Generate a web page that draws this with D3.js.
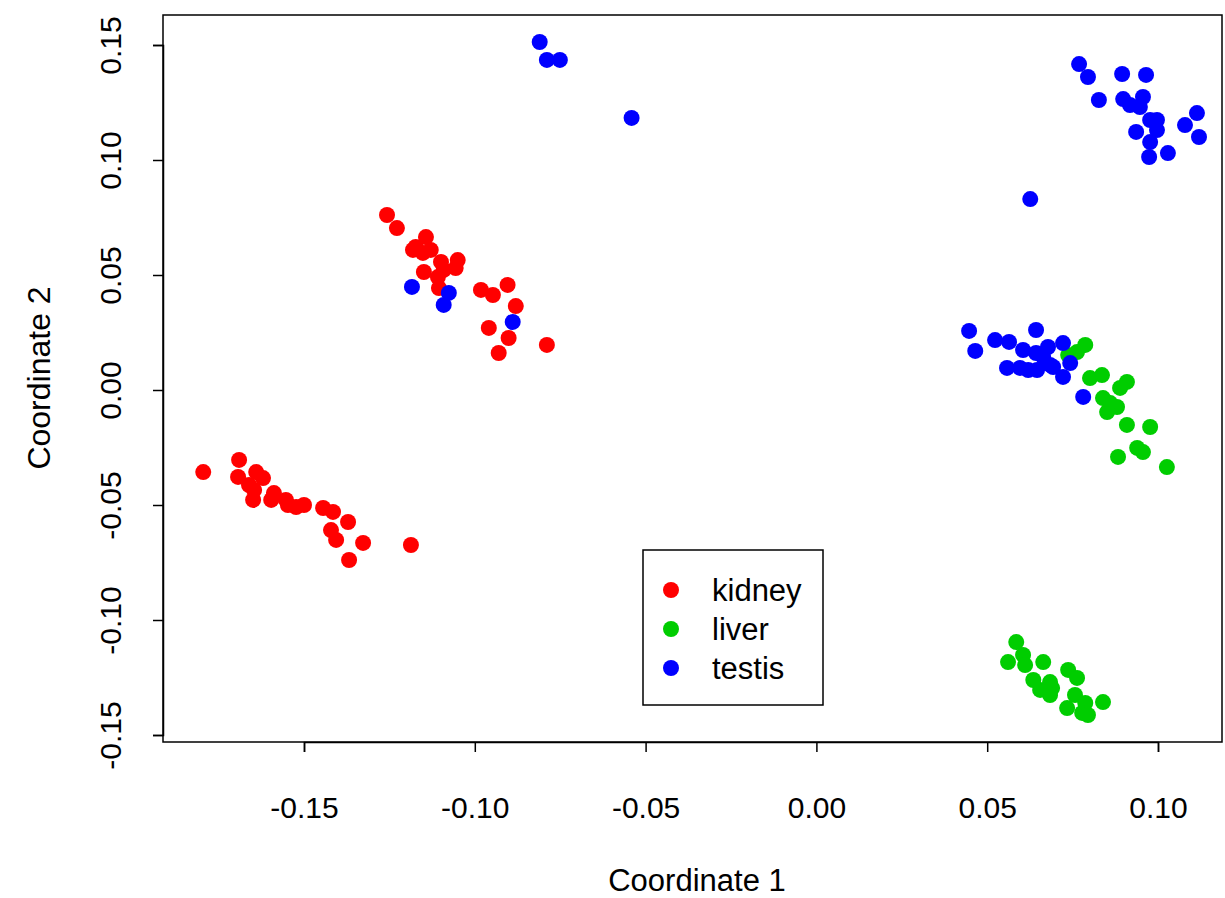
<!DOCTYPE html>
<html><head><meta charset="utf-8">
<script src="https://d3js.org/d3.v7.min.js"></script>
<style>body{margin:0;background:#fff}text{font-family:"Liberation Sans",Arial,sans-serif}</style>
</head><body><svg id="c" width="1225" height="898"></svg>
<script>
const kidney = [[-0.1257,0.0761],[-0.1228,0.0704],[-0.1143,0.0665],[-0.1173,0.0622],[-0.1181,0.0609],[-0.1152,0.0596],[-0.1129,0.0609],[-0.1099,0.0557],[-0.1050,0.0565],[-0.1056,0.0530],[-0.1149,0.0513],[-0.1108,0.0491],[-0.1091,0.0522],[-0.1105,0.0443],[-0.0982,0.0435],[-0.0947,0.0413],[-0.0904,0.0457],[-0.0880,0.0365],[-0.0959,0.0270],[-0.0901,0.0226],[-0.0930,0.0161],[-0.0789,0.0196],
[-0.1795,-0.0357],[-0.1690,-0.0304],[-0.1693,-0.0378],[-0.1640,-0.0357],[-0.1620,-0.0383],[-0.1661,-0.0413],[-0.1646,-0.0435],[-0.1649,-0.0478],[-0.1596,-0.0478],[-0.1588,-0.0448],[-0.1553,-0.0478],[-0.1547,-0.0500],[-0.1523,-0.0509],[-0.1500,-0.0500],[-0.1444,-0.0513],[-0.1415,-0.0530],[-0.1371,-0.0574],[-0.1421,-0.0609],[-0.1406,-0.0652],[-0.1327,-0.0665],[-0.1368,-0.0739],[-0.1187,-0.0674]];
const liver = [[0.0787,0.0196],[0.0763,0.0165],[0.0737,0.0152],[0.0801,0.0052],[0.0836,0.0065],[0.0909,0.0035],[0.0889,0.0009],[0.0839,-0.0035],[0.0860,-0.0057],[0.0880,-0.0074],[0.0851,-0.0096],[0.0909,-0.0152],[0.0977,-0.0161],[0.0883,-0.0291],[0.0939,-0.0252],[0.0956,-0.0270],[0.1026,-0.0335],
[0.0585,-0.1096],[0.0561,-0.1183],[0.0605,-0.1152],[0.0611,-0.1196],[0.0664,-0.1183],[0.0635,-0.1261],[0.0655,-0.1304],[0.0684,-0.1270],[0.0690,-0.1296],[0.0684,-0.1326],[0.0737,-0.1217],[0.0763,-0.1252],[0.0757,-0.1326],[0.0787,-0.1361],[0.0734,-0.1383],[0.0778,-0.1404],[0.0795,-0.1413],[0.0839,-0.1357]];
const testis = [[-0.1184,0.0448],[-0.1076,0.0422],[-0.1091,0.0370],[-0.0889,0.0296],
[-0.0810,0.1513],[-0.0789,0.1435],[-0.0751,0.1435],[-0.0541,0.1183],
[0.0769,0.1417],[0.0795,0.1361],[0.0895,0.1374],[0.0965,0.1370],[0.0827,0.1261],[0.0898,0.1265],[0.0918,0.1239],[0.0956,0.1274],[0.0947,0.1230],[0.0977,0.1174],[0.0997,0.1174],[0.0936,0.1122],[0.0997,0.1130],[0.0977,0.1078],[0.0974,0.1013],[0.1029,0.1030],[0.1079,0.1152],[0.1114,0.1204],[0.1120,0.1100],[0.0626,0.0830],
[0.0447,0.0257],[0.0465,0.0170],[0.0523,0.0217],[0.0564,0.0209],[0.0643,0.0261],[0.0605,0.0174],[0.0643,0.0161],[0.0678,0.0187],[0.0722,0.0204],[0.0558,0.0096],[0.0596,0.0096],[0.0620,0.0087],[0.0646,0.0087],[0.0684,0.0109],[0.0693,0.0100],[0.0722,0.0057],[0.0743,0.0117],[0.0781,-0.0030],[0.0664,0.0143]];
const groups = ["kidney","liver","testis"];
const colors = ["#ff0000","#00cd00","#0000ff"];
const xTicks = [-0.15,-0.10,-0.05,0.00,0.05,0.10];
const yTicks = [-0.15,-0.10,-0.05,0.00,0.05,0.10,0.15];

const svg = d3.select("#c");
const L=163,R=1222,T=15,B=742;
const x = d3.scaleLinear().domain([-0.15,0.10]).range([304,1158]);
const y = d3.scaleLinear().domain([-0.15,0.15]).range([735,45]);
svg.append("rect").attr("x",L).attr("y",T).attr("width",R-L).attr("height",B-T).attr("fill","none").attr("stroke","#000").attr("stroke-width",1.5);
const fmt = d=>d3.format(".2f")(d).replace("−","-");
const xa = svg.append("g").attr("transform",`translate(0,${B})`).call(d3.axisBottom(x).tickValues(xTicks).tickFormat(fmt).tickSize(10));
xa.selectAll(".tick text").attr("font-size",30).attr("fill","#000").attr("y",76).attr("dy","0");
const ya = svg.append("g").attr("transform",`translate(${L},0)`).call(d3.axisLeft(y).tickValues(yTicks).tickFormat(fmt).tickSize(10));
ya.selectAll(".tick text").attr("font-size",30).attr("fill","#000").attr("text-anchor","middle").attr("x",0).attr("y",0).attr("dy","0")
  .attr("transform","translate(-42,0) rotate(-90)");
[xa,ya].forEach(a=>{a.selectAll("path,line").attr("stroke","#000").attr("stroke-width",1.5);});

const data=[kidney,liver,testis];
data.forEach((arr,i)=>{
  svg.append("g").selectAll("circle").data(arr).join("circle")
   .attr("cx",d=>x(d[0])).attr("cy",d=>y(d[1])).attr("r",8).attr("fill",colors[i]);
});
svg.append("text").attr("x",697).attr("y",891).attr("text-anchor","middle").attr("font-size",31).text("Coordinate 1");
svg.append("text").attr("transform","translate(50,378) rotate(-90)").attr("text-anchor","middle").attr("font-size",32).text("Coordinate 2");

const lg = svg.append("g");
lg.append("rect").attr("x",643).attr("y",550).attr("width",180).attr("height",155).attr("fill","#fff").attr("stroke","#000").attr("stroke-width",1.5);
groups.forEach((g,i)=>{
  lg.append("circle").attr("cx",671).attr("cy",590+i*39).attr("r",8).attr("fill",colors[i]);
  lg.append("text").attr("x",712).attr("y",590+i*39).attr("dy","0.35em").attr("font-size",31).text(g);
});
</script></body></html>
